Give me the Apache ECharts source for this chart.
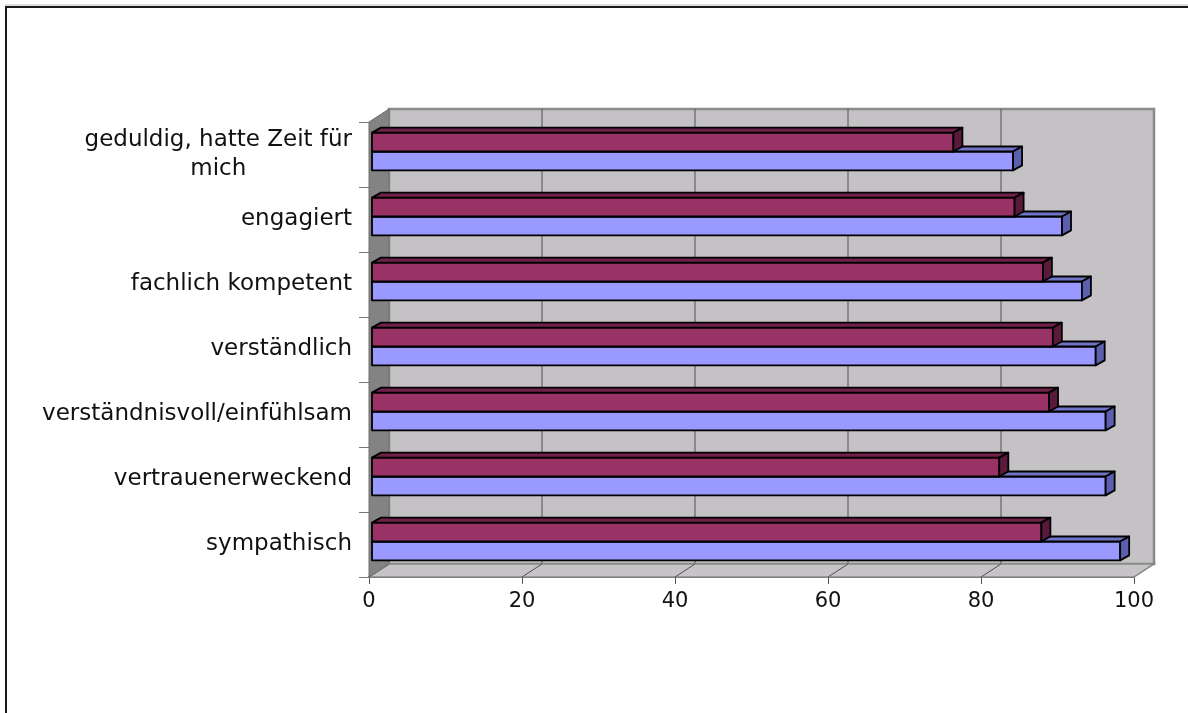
<!DOCTYPE html>
<html>
<head>
<meta charset="utf-8">
<script src="https://cdn.jsdelivr.net/npm/echarts@6/dist/echarts.min.js"></script>
<style>html,body{margin:0;padding:0;background:#fff}#c{width:1188px;height:713px}</style>
</head>
<body>
<div id="c"></div>
<script>
// ---- data ----
const categories = [
  'geduldig, hatte Zeit für\nmich',
  'engagiert',
  'fachlich kompetent',
  'verständlich',
  'verständnisvoll/einfühlsam',
  'vertrauenerweckend',
  'sympathisch'
];
const seriesMaroon = [76, 84, 87.7, 89, 88.5, 82, 87.5];
const seriesBlue   = [83.8, 90.2, 92.8, 94.6, 95.9, 95.9, 97.8];
const xTicks = [0, 20, 40, 60, 80, 100];

// ---- styles ----
const WALL_DX = 20, WALL_DY = -13;
const BAR_SHIFT_X = 3, BAR_SHIFT_Y = -3;
const BAR_DX = 9, BAR_DY = -5;
const FONT = 'DejaVu Sans';

function barRenderer(position, front, top, side) {
  return function (params, api) {
    const val = api.value(0);
    const cat = api.value(1);
    const band = api.size([0, 1])[1];
    const h = band * 0.29;
    const p0 = api.coord([0, cat]);
    const p1 = api.coord([val, cat]);
    const x0 = p0[0] + BAR_SHIFT_X, x1 = p1[0] + BAR_SHIFT_X;
    const yc = p0[1] + BAR_SHIFT_Y;
    const yTop = position === 'upper' ? yc - h : yc;
    const stroke = { stroke: '#000', lineWidth: 1.8, lineJoin: 'round' };
    return {
      type: 'group',
      children: [
        { type: 'rect', shape: { x: x0, y: yTop, width: x1 - x0, height: h },
          style: Object.assign({ fill: front }, stroke) },
        { type: 'polygon', shape: { points: [[x0, yTop], [x0 + BAR_DX, yTop + BAR_DY], [x1 + BAR_DX, yTop + BAR_DY], [x1, yTop]] },
          style: Object.assign({ fill: top }, stroke) },
        { type: 'polygon', shape: { points: [[x1, yTop], [x1 + BAR_DX, yTop + BAR_DY], [x1 + BAR_DX, yTop + h + BAR_DY], [x1, yTop + h]] },
          style: Object.assign({ fill: side }, stroke) }
      ]
    };
  };
}

function wallRenderer(params, api) {
  const cs = params.coordSys;
  const left = cs.x, top = cs.y, right = cs.x + cs.width, bottom = cs.y + cs.height;
  const children = [];
  // back plane
  children.push({ type: 'rect',
    shape: { x: left + WALL_DX, y: top + WALL_DY, width: right - left, height: bottom - top },
    style: { fill: '#c4c2c5', stroke: '#8a8a8a', lineWidth: 2.5 } });
  // grid lines on the back plane
  xTicks.forEach(function (t) {
    if (t === xTicks[0] || t === xTicks[xTicks.length - 1]) return;
    const x = api.coord([t, 0])[0];
    children.push({ type: 'line',
      shape: { x1: x + WALL_DX, y1: top + WALL_DY, x2: x + WALL_DX, y2: bottom + WALL_DY },
      style: { stroke: '#505050', lineWidth: 1 } });
  });
  // floor
  children.push({ type: 'polygon',
    shape: { points: [[left, bottom], [right, bottom], [right + WALL_DX, bottom + WALL_DY], [left + WALL_DX, bottom + WALL_DY]] },
    style: { fill: '#c6c4c7', stroke: '#8a8a8a', lineWidth: 1.5 } });
  xTicks.forEach(function (t) {
    if (t === xTicks[0] || t === xTicks[xTicks.length - 1]) return;
    const x = api.coord([t, 0])[0];
    children.push({ type: 'line',
      shape: { x1: x, y1: bottom, x2: x + WALL_DX, y2: bottom + WALL_DY },
      style: { stroke: '#505050', lineWidth: 1 } });
  });
  // left wall
  children.push({ type: 'polygon',
    shape: { points: [[left, top], [left + WALL_DX, top + WALL_DY], [left + WALL_DX, bottom + WALL_DY], [left, bottom]] },
    style: { fill: '#838383', stroke: '#6e6e6e', lineWidth: 1 } });
  return { type: 'group', children: children };
}

const chart = echarts.init(document.getElementById('c'), null, { renderer: 'canvas' });
chart.setOption({
  backgroundColor: '#ffffff',
  animation: false,
  graphic: [
    { type: 'line', z: 100, shape: { x1: 5, y1: 5, x2: 1188, y2: 5 }, style: { stroke: '#bbbbbb', lineWidth: 1 } },
    { type: 'line', z: 100, shape: { x1: 5, y1: 7, x2: 1188, y2: 7 }, style: { stroke: '#1a1a1a', lineWidth: 2 } },
    { type: 'line', z: 100, shape: { x1: 6, y1: 6, x2: 6, y2: 713 }, style: { stroke: '#1a1a1a', lineWidth: 2 } }
  ],
  grid: { left: 369, right: 54, top: 122, bottom: 136, containLabel: false },
  xAxis: {
    type: 'value', min: 0, max: 100, interval: 20,
    axisLine: { show: true, lineStyle: { color: '#5a5a5a', width: 2 } },
    axisTick: { show: true, length: 7, lineStyle: { color: '#555' } },
    splitLine: { show: false },
    axisLabel: { fontFamily: FONT, fontSize: 21, color: '#111', margin: 14 }
  },
  yAxis: {
    type: 'category', data: categories, inverse: true,
    axisLine: { show: true, lineStyle: { color: '#666', width: 1 } },
    axisTick: { show: true, length: 10, lineStyle: { color: '#777' } },
    splitLine: { show: false },
    axisLabel: {
      fontFamily: FONT, fontSize: 23, color: '#111', margin: 17,
      formatter: function (v) {
        return v.split('\n').map(function (s) { return '{c|' + s + '}'; }).join('\n');
      },
      rich: { c: { fontFamily: FONT, fontSize: 23, color: '#111', align: 'center', lineHeight: 29 } }
    }
  },
  series: [
    { type: 'custom', name: 'walls', data: [[0, 0]], renderItem: wallRenderer, z: 1, silent: true,
      encode: { x: 0, y: 1 } },
    { type: 'custom', name: 'Serie 2', data: seriesBlue.map(function (v, i) { return [v, i]; }),
      renderItem: barRenderer('lower', '#9999ff', '#6f74c7', '#5a5fae'), z: 3, encode: { x: 0, y: 1 } },
    { type: 'custom', name: 'Serie 1', data: seriesMaroon.map(function (v, i) { return [v, i]; }),
      renderItem: barRenderer('upper', '#993366', '#6f2149', '#5a1a3b'), z: 4, encode: { x: 0, y: 1 } }
  ]
});
</script>
</body>
</html>
